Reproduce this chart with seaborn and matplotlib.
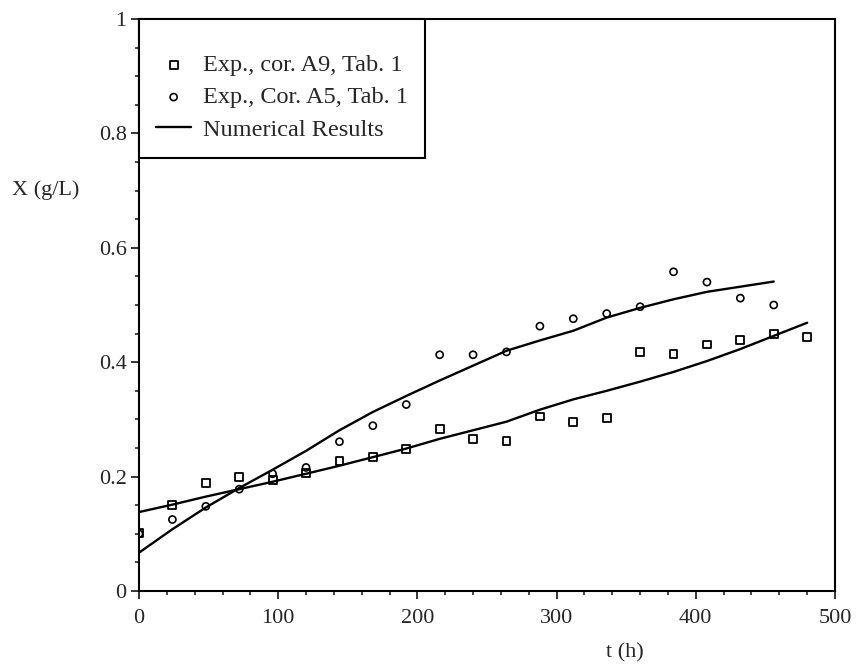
import numpy as np
import pandas as pd
import seaborn as sns
import matplotlib
matplotlib.use('Agg')
import matplotlib.pyplot as plt
from matplotlib.ticker import MultipleLocator, FormatStrFormatter

# experimental time points (h)
t_exp = [0, 24, 48, 72, 96, 120, 144, 168, 192, 216, 240, 264, 288, 312, 336, 360, 384, 408, 432, 456, 480]
x_a9 = [0.101, 0.150, 0.189, 0.199, 0.194, 0.207, 0.227, 0.234, 0.248, 0.283, 0.266, 0.262, 0.305,
        0.295, 0.302, 0.418, 0.415, 0.431, 0.439, 0.449, 0.444]
t_a5 = t_exp[:-1]
x_a5 = [0.100, 0.125, 0.148, 0.178, 0.205, 0.216, 0.261, 0.289, 0.326, 0.413, 0.413, 0.418, 0.463,
        0.476, 0.485, 0.497, 0.558, 0.540, 0.512, 0.500]

# numerical results
t_num = [0, 24, 48, 72, 96, 120, 144, 168, 192, 216, 240, 264, 288, 312, 336, 360, 384, 408, 432, 456, 480]
num_a9 = [0.138, 0.151, 0.165, 0.178, 0.191, 0.205, 0.219, 0.234, 0.249, 0.266, 0.281, 0.296, 0.317,
          0.335, 0.350, 0.366, 0.383, 0.402, 0.423, 0.446, 0.469]
t_num5 = t_num[:-1]
num_a5 = [0.067, 0.108, 0.146, 0.180, 0.212, 0.245, 0.281, 0.313, 0.341, 0.368, 0.394, 0.420, 0.438,
          0.455, 0.478, 0.495, 0.510, 0.523, 0.532, 0.541]

sns.set_style('ticks')
plt.rcParams['font.family'] = ['Liberation Serif', 'DejaVu Serif']
plt.rcParams['axes.linewidth'] = 1.5

fig = plt.figure(figsize=(8.57, 6.64), dpi=100)
ax = fig.add_axes([139 / 857, 1 - 591 / 664, (835 - 139) / 857, (591 - 19) / 664])

sns.lineplot(x=t_num, y=num_a9, color='black', linewidth=1.7, ax=ax, label='Numerical Results')
sns.lineplot(x=t_num5, y=num_a5, color='black', linewidth=1.7, ax=ax)
sns.scatterplot(x=t_exp, y=x_a9, marker='s', s=32, facecolors='none', edgecolors='black',
                linewidths=1.3, ax=ax, label='Exp., cor. A9, Tab. 1', zorder=3)
sns.scatterplot(x=t_a5, y=x_a5, marker='o', s=26, facecolors='none', edgecolors='black',
                linewidths=1.2, ax=ax, label='Exp., Cor. A5, Tab. 1', zorder=3)

ax.set_xlim(0, 500)
ax.set_ylim(0, 1)
ax.xaxis.set_major_locator(MultipleLocator(100))
ax.xaxis.set_minor_locator(MultipleLocator(20))
ax.yaxis.set_major_locator(MultipleLocator(0.2))
ax.yaxis.set_minor_locator(MultipleLocator(0.05))
ax.yaxis.set_major_formatter(FormatStrFormatter('%g'))
ax.tick_params(which='major', length=6, width=1.3, labelsize=16, direction='out', pad=3)
ax.tick_params(which='minor', length=3, width=1.2, direction='out')
ax.tick_params(axis='x', which='major', pad=7)
for s in ax.spines.values():
    s.set_visible(True)
    s.set_color('black')

ax.set_xlabel('t (h)', fontsize=16, va='center')
ax.xaxis.set_label_coords(0.698, -0.108)
ax.set_ylabel('X (g/L)', fontsize=16, rotation=0, ha='center', va='center')
ax.yaxis.set_label_coords(-0.134, 0.701)

handles, labels = ax.get_legend_handles_labels()
order = [labels.index('Exp., cor. A9, Tab. 1'), labels.index('Exp., Cor. A5, Tab. 1'),
         labels.index('Numerical Results')]
leg = ax.legend([handles[i] for i in order], [labels[i] for i in order],
                loc='upper left', bbox_to_anchor=(0, 1), borderaxespad=0, fontsize=17.5,
                frameon=True, fancybox=False, edgecolor='black', framealpha=1,
                borderpad=0.7, labelspacing=0.42, handlelength=1.45, handletextpad=0.5,
                title=' ', title_fontsize=6)
leg.get_frame().set_linewidth(1.5)

fig.savefig('out.png', dpi=100)
